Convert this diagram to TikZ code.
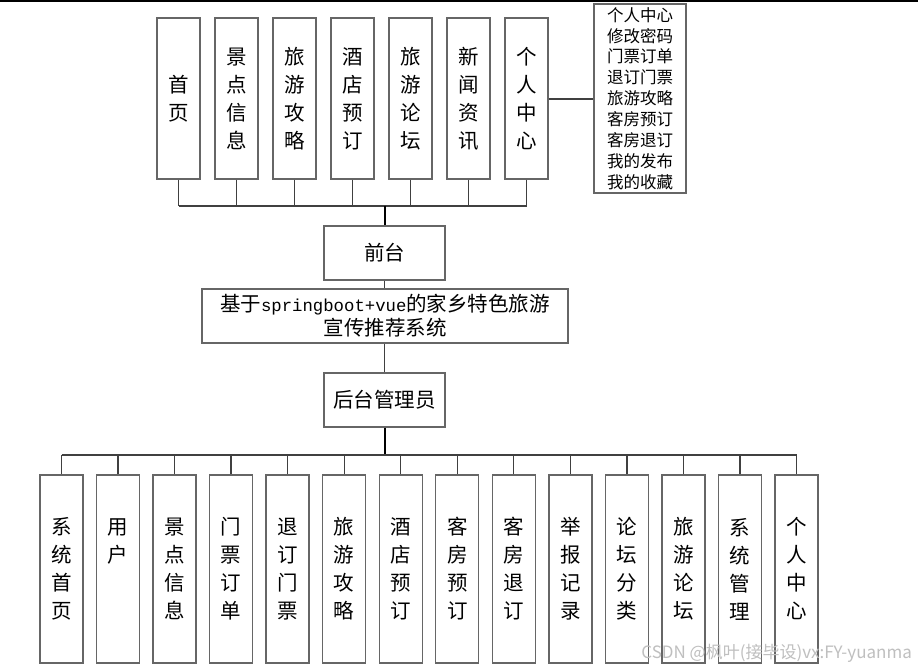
\documentclass[tikz,border=0pt]{standalone}
\usepackage{fontspec}
\setmainfont{Noto Sans CJK SC}
\newfontfamily\monof{Liberation Mono}
\begin{document}
\begin{tikzpicture}[x=1pt,y=-1pt,
  box/.style={draw=black!60, line width=1.4pt, inner sep=0pt, align=center, fill=white},
  vbox/.style={box, minimum width=43pt, font=\fontsize{20.5}{28}\selectfont},
  topbox/.style={vbox, minimum height=161pt},
  botbox/.style={vbox, minimum height=188pt},
  midbox/.style={box, minimum width=121pt, minimum height=54pt, font=\fontsize{20.5}{25}\selectfont},
  conn/.style={draw=black!75, line width=1.3pt},
  trunk/.style={draw=black, line width=2pt}]
\useasboundingbox (0,0) rectangle (918,668);
\fill[white] (0,0) rectangle (918,668);
\draw[black, line width=1.6pt] (0,1) -- (918,1);
% top boxes
\foreach \i/\t in {0/{首\\页},1/{景\\点\\信\\息},2/{旅\\游\\攻\\略},3/{酒\\店\\预\\订},4/{旅\\游\\论\\坛},5/{新\\闻\\资\\讯},6/{个\\人\\中\\心}}
  \node[topbox] (t\i) at ({178.5+58*\i},98.5) {\t};
\node[box, minimum width=92pt, minimum height=189pt, font=\fontsize{16.5}{20.9}\selectfont] (side) at (640,98.5)
  {个人中心\\修改密码\\门票订单\\退订门票\\旅游攻略\\客房预订\\客房退订\\我的发布\\我的收藏};
\draw[conn] (t6.east |- 0,99) -- (side.west |- 0,99);
% top bus
\coordinate (tb) at (385,206);
\foreach \i in {0,...,6} \draw[conn] (t\i.south) -- (t\i.south |- tb);
\draw[conn] (t0.south |- tb) -- (t6.south |- tb);
% middle
\node[midbox] (qt) at (384.5,253) {前台};
\node[box, minimum width=366pt, minimum height=54pt, font=\fontsize{20.5}{24}\selectfont] (sys) at (385,316)
  {基于{\monof\fontsize{17.3}{24}\selectfont springboot+vue}的家乡特色旅游\\宣传推荐系统};
\node[midbox] (ht) at (384.5,400) {后台管理员};
\draw[trunk] (tb) -- (tb |- qt.north);
\draw[conn] (qt.south) -- (qt.south |- sys.north);
\draw[conn] (sys.south -| qt) -- (ht.north);
\coordinate (bb) at (385,455);
\draw[trunk] (ht.south -| bb) -- (bb);
% bottom boxes
\foreach \i/\t in {0/{系\\统\\首\\页},1/{用\\户\\\phantom{用}\\\phantom{用}},2/{景\\点\\信\\息},3/{门\\票\\订\\单},4/{退\\订\\门\\票},5/{旅\\游\\攻\\略},6/{酒\\店\\预\\订},7/{客\\房\\预\\订},8/{客\\房\\退\\订},9/{举\\报\\记\\录},10/{论\\坛\\分\\类},11/{旅\\游\\论\\坛},12/{系\\统\\管\\理},13/{个\\人\\中\\心}}
  \node[botbox] (b\i) at ({61.5+56.54*\i},569) {\t};
\foreach \i in {0,...,13} \draw[conn] (b\i.north) -- (b\i.north |- bb);
\draw[conn] (b0.north |- bb) -- (b13.north |- bb);
% watermark
\node[text=black!25, font=\fontsize{17}{20}\selectfont, anchor=east, inner sep=0pt] (wm) at (912,653) {CSDN @枫叶(接毕设)vx:FY-yuanma};
\end{tikzpicture}
\end{document}
